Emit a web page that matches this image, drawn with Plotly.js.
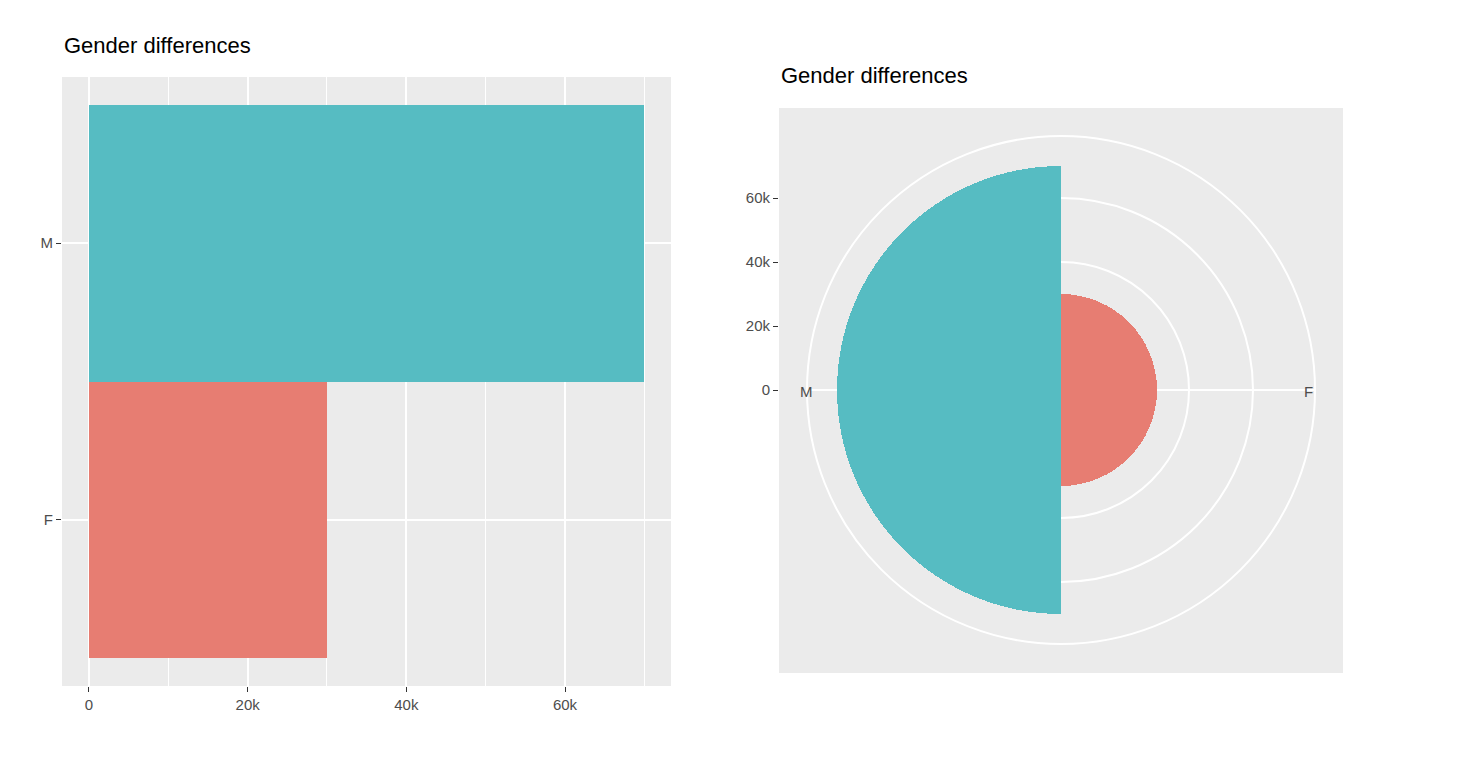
<html><head><script src="https://cdn.plot.ly/plotly-3.0.1.min.js"></script></head><body style="margin:0">
<div id="c" style="width:1464px;height:784px"></div>
<script>
const categories = ["F", "M"];
const counts = [30000, 70000];
const colors = ["#E77D72", "#56BCC2"];
const thetaPos = [0, 180];
const W = 1464, H = 784;
const px = v => v / W, py = v => 1 - v / H;
const grid = "#FFFFFF", bg = "#EBEBEB", tf = {family: "Liberation Sans, Arial", size: 15, color: "#4D4D4D"};
const data = [
  {type: "bar", orientation: "h", y: categories, x: counts, marker: {color: colors}, xaxis: "x", yaxis: "y", hoverinfo: "none"},
  {type: "barpolar", r: counts, theta: thetaPos, width: [180, 180], marker: {color: colors, line: {width: 0}}, subplot: "polar", hoverinfo: "none"},
  {type: "scatter", x: [null], y: [null], xaxis: "x2", yaxis: "y2", hoverinfo: "none"}
];
const layout = {
  width: W, height: H, margin: {l: 0, r: 0, t: 0, b: 0}, showlegend: false,
  paper_bgcolor: "white", plot_bgcolor: bg, bargap: 0,
  xaxis: {domain: [px(62), px(671)], range: [-3400, 73360], tickvals: [0, 20000, 40000, 60000], gridcolor: grid, gridwidth: 2,
    minor: {tickvals: [10000, 30000, 50000, 70000], gridcolor: grid, gridwidth: 1, showgrid: true}, zeroline: false,
    ticks: "outside", ticklen: 5, tickcolor: "#333", tickfont: tf, anchor: "y", showline: false},
  yaxis: {domain: [1 - 686 / H, 1 - 77 / H], range: [-0.6, 1.6], type: "category", gridcolor: grid, gridwidth: 2,
    ticks: "outside", ticklen: 5, tickcolor: "#333", tickfont: tf, anchor: "x", zeroline: false},
  xaxis2: {domain: [px(779), px(1343)], range: [0, 1], visible: false, anchor: "y2"},
  yaxis2: {domain: [1 - 644 / H, 1 - 136 / H], range: [-79375, 79375], tickvals: [0, 20000, 40000, 60000], anchor: "x2",
    showgrid: false, zeroline: false, ticks: "outside", ticklen: 5, tickcolor: "#333", tickfont: tf, showline: false},
  polar: {domain: {x: [px(807), px(1315)], y: [1 - 644 / H, 1 - 136 / H]}, bgcolor: bg,
    radialaxis: {range: [0, 79375], tickvals: [20000, 40000, 60000], showticklabels: false, ticks: "", showline: false, gridcolor: grid, gridwidth: 2},
    angularaxis: {tickvals: [0, 180], showticklabels: false, ticks: "", gridcolor: grid, gridwidth: 2, showline: true, linecolor: grid, linewidth: 2, direction: "counterclockwise", rotation: 0}},
  shapes: [{type: "rect", xref: "paper", yref: "paper", x0: px(779), x1: px(1343), y0: py(673), y1: py(108), fillcolor: bg, line: {width: 0}, layer: "below"}],
  annotations: [
    {text: "Gender differences", xref: "paper", yref: "paper", x: px(62), y: py(45), xanchor: "left", yanchor: "middle", showarrow: false, font: {family: "Liberation Sans, Arial", size: 22, color: "#000"}},
    {text: "Gender differences", xref: "paper", yref: "paper", x: px(779), y: py(76), xanchor: "left", yanchor: "middle", showarrow: false, font: {family: "Liberation Sans, Arial", size: 22, color: "#000"}},
    {text: "M", xref: "paper", yref: "paper", x: px(806), y: py(391), showarrow: false, font: tf},
    {text: "F", xref: "paper", yref: "paper", x: px(1315), y: py(391), showarrow: false, font: tf}
  ]
};
Plotly.newPlot("c", data, layout, {staticPlot: true});
</script></body></html>
